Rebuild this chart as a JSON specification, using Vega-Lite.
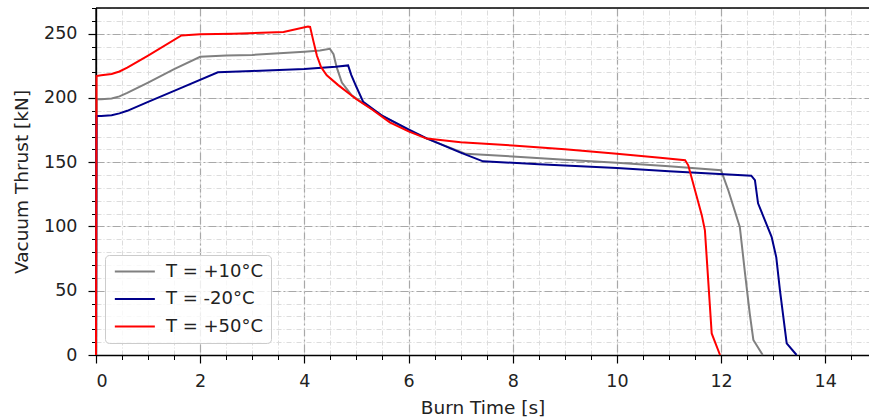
{
  "$schema": "https://vega.github.io/schema/vega-lite/v6.json",
  "width": 773,
  "height": 347,
  "autosize": {"type": "none"},
  "padding": {"left": 96, "top": 8, "right": 0, "bottom": 65},
  "background": "white",
  "config": {
    "view": {"stroke": null},
    "font": "DejaVu Sans",
    "axis": {"labelFont": "DejaVu Sans", "titleFont": "DejaVu Sans", "labelColor": "#222", "titleColor": "#222", "titleFontWeight": "normal"}
  },
  "datasets": {
    "thrust": [
      {"t": 0, "thrust": 0, "series": "T = +10°C"},
      {"t": 0.01, "thrust": 199, "series": "T = +10°C"},
      {"t": 0.1, "thrust": 199, "series": "T = +10°C"},
      {"t": 0.3, "thrust": 199.6, "series": "T = +10°C"},
      {"t": 0.45, "thrust": 201.2, "series": "T = +10°C"},
      {"t": 0.6, "thrust": 204, "series": "T = +10°C"},
      {"t": 1.0, "thrust": 212, "series": "T = +10°C"},
      {"t": 1.5, "thrust": 222.5, "series": "T = +10°C"},
      {"t": 2.0, "thrust": 232, "series": "T = +10°C"},
      {"t": 2.5, "thrust": 233, "series": "T = +10°C"},
      {"t": 3.0, "thrust": 233.5, "series": "T = +10°C"},
      {"t": 3.6, "thrust": 235, "series": "T = +10°C"},
      {"t": 4.0, "thrust": 236, "series": "T = +10°C"},
      {"t": 4.3, "thrust": 237, "series": "T = +10°C"},
      {"t": 4.49, "thrust": 238.3, "series": "T = +10°C"},
      {"t": 4.56, "thrust": 234, "series": "T = +10°C"},
      {"t": 4.62, "thrust": 224, "series": "T = +10°C"},
      {"t": 4.72, "thrust": 212, "series": "T = +10°C"},
      {"t": 4.91, "thrust": 202, "series": "T = +10°C"},
      {"t": 5.2, "thrust": 194, "series": "T = +10°C"},
      {"t": 5.5, "thrust": 186, "series": "T = +10°C"},
      {"t": 6.0, "thrust": 175, "series": "T = +10°C"},
      {"t": 6.35, "thrust": 168.3, "series": "T = +10°C"},
      {"t": 7.1, "thrust": 156.5, "series": "T = +10°C"},
      {"t": 8.0, "thrust": 154.5, "series": "T = +10°C"},
      {"t": 9.0, "thrust": 152, "series": "T = +10°C"},
      {"t": 10.0, "thrust": 149.5, "series": "T = +10°C"},
      {"t": 11.0, "thrust": 146.8, "series": "T = +10°C"},
      {"t": 12.0, "thrust": 143.7, "series": "T = +10°C"},
      {"t": 12.14, "thrust": 128, "series": "T = +10°C"},
      {"t": 12.36, "thrust": 99.7, "series": "T = +10°C"},
      {"t": 12.46, "thrust": 63.5, "series": "T = +10°C"},
      {"t": 12.55, "thrust": 32.4, "series": "T = +10°C"},
      {"t": 12.62, "thrust": 11.7, "series": "T = +10°C"},
      {"t": 12.8, "thrust": 0, "series": "T = +10°C"},
      {"t": 0, "thrust": 0, "series": "T = -20°C"},
      {"t": 0.01, "thrust": 186, "series": "T = -20°C"},
      {"t": 0.1, "thrust": 186, "series": "T = -20°C"},
      {"t": 0.3, "thrust": 186.6, "series": "T = -20°C"},
      {"t": 0.45, "thrust": 188, "series": "T = -20°C"},
      {"t": 0.6, "thrust": 190, "series": "T = -20°C"},
      {"t": 1.0, "thrust": 197, "series": "T = -20°C"},
      {"t": 1.5, "thrust": 205.5, "series": "T = -20°C"},
      {"t": 2.34, "thrust": 220, "series": "T = -20°C"},
      {"t": 3.0, "thrust": 221, "series": "T = -20°C"},
      {"t": 4.0, "thrust": 222.5, "series": "T = -20°C"},
      {"t": 4.6, "thrust": 224.3, "series": "T = -20°C"},
      {"t": 4.84, "thrust": 225.3, "series": "T = -20°C"},
      {"t": 4.9, "thrust": 218, "series": "T = -20°C"},
      {"t": 5.0, "thrust": 208.5, "series": "T = -20°C"},
      {"t": 5.13, "thrust": 197, "series": "T = -20°C"},
      {"t": 5.5, "thrust": 186, "series": "T = -20°C"},
      {"t": 6.0, "thrust": 175.5, "series": "T = -20°C"},
      {"t": 6.35, "thrust": 168.6, "series": "T = -20°C"},
      {"t": 7.0, "thrust": 157.5, "series": "T = -20°C"},
      {"t": 7.43, "thrust": 150.7, "series": "T = -20°C"},
      {"t": 8.5, "thrust": 148.5, "series": "T = -20°C"},
      {"t": 10.0, "thrust": 145.5, "series": "T = -20°C"},
      {"t": 11.0, "thrust": 143, "series": "T = -20°C"},
      {"t": 12.58, "thrust": 139.5, "series": "T = -20°C"},
      {"t": 12.65, "thrust": 136, "series": "T = -20°C"},
      {"t": 12.71, "thrust": 118, "series": "T = -20°C"},
      {"t": 12.97, "thrust": 92, "series": "T = -20°C"},
      {"t": 13.06, "thrust": 76, "series": "T = -20°C"},
      {"t": 13.13, "thrust": 50.5, "series": "T = -20°C"},
      {"t": 13.26, "thrust": 9, "series": "T = -20°C"},
      {"t": 13.45, "thrust": 0, "series": "T = -20°C"},
      {"t": 0, "thrust": 0, "series": "T = +50°C"},
      {"t": 0.01, "thrust": 217, "series": "T = +50°C"},
      {"t": 0.1, "thrust": 217.6, "series": "T = +50°C"},
      {"t": 0.3, "thrust": 218.6, "series": "T = +50°C"},
      {"t": 0.45, "thrust": 220.6, "series": "T = +50°C"},
      {"t": 0.6, "thrust": 223.6, "series": "T = +50°C"},
      {"t": 1.0, "thrust": 233, "series": "T = +50°C"},
      {"t": 1.64, "thrust": 248.6, "series": "T = +50°C"},
      {"t": 2.0, "thrust": 249.5, "series": "T = +50°C"},
      {"t": 2.64, "thrust": 250, "series": "T = +50°C"},
      {"t": 3.6, "thrust": 251.3, "series": "T = +50°C"},
      {"t": 4.07, "thrust": 255.5, "series": "T = +50°C"},
      {"t": 4.11, "thrust": 255.3, "series": "T = +50°C"},
      {"t": 4.17, "thrust": 244.8, "series": "T = +50°C"},
      {"t": 4.24, "thrust": 233, "series": "T = +50°C"},
      {"t": 4.32, "thrust": 224, "series": "T = +50°C"},
      {"t": 4.43, "thrust": 217.6, "series": "T = +50°C"},
      {"t": 4.65, "thrust": 210, "series": "T = +50°C"},
      {"t": 5.0, "thrust": 199, "series": "T = +50°C"},
      {"t": 5.3, "thrust": 191, "series": "T = +50°C"},
      {"t": 5.64, "thrust": 181, "series": "T = +50°C"},
      {"t": 6.0, "thrust": 174, "series": "T = +50°C"},
      {"t": 6.35, "thrust": 168.4, "series": "T = +50°C"},
      {"t": 7.0, "thrust": 165.5, "series": "T = +50°C"},
      {"t": 8.0, "thrust": 163, "series": "T = +50°C"},
      {"t": 9.0, "thrust": 160, "series": "T = +50°C"},
      {"t": 10.0, "thrust": 156.6, "series": "T = +50°C"},
      {"t": 10.83, "thrust": 153.5, "series": "T = +50°C"},
      {"t": 11.31, "thrust": 151.5, "series": "T = +50°C"},
      {"t": 11.37, "thrust": 147.6, "series": "T = +50°C"},
      {"t": 11.63, "thrust": 108.8, "series": "T = +50°C"},
      {"t": 11.69, "thrust": 97, "series": "T = +50°C"},
      {"t": 11.82, "thrust": 16.8, "series": "T = +50°C"},
      {"t": 11.98, "thrust": 0, "series": "T = +50°C"}
    ]
  },
  "resolve": {"scale": {"x": "shared", "y": "shared"}, "axis": {"x": "independent", "y": "independent"}},
  "layer": [
    {
      "data": {"values": [{}]},
      "mark": {"type": "rule", "color": "black", "strokeWidth": 1.3},
      "encoding": {
        "y": {
          "datum": 270, "type": "quantitative",
          "scale": {"domain": [0, 270], "nice": false, "zero": false},
          "axis": {
            "orient": "left", "title": null, "labels": false, "domain": false,
            "values": [0,10,20,30,40,50,60,70,80,90,100,110,120,130,140,150,160,170,180,190,200,210,220,230,240,250,260,270],
            "tickSize": 4.5, "tickColor": "black", "tickWidth": 1,
            "grid": true, "gridColor": "#dcdcdc", "gridDash": [5, 2, 1, 2], "gridWidth": 1
          }
        }
      }
    },
    {
      "data": {"values": [{}]},
      "mark": {"type": "rule", "color": "black", "strokeWidth": 1.3},
      "encoding": {
        "x": {
          "datum": 0, "type": "quantitative",
          "scale": {"domain": [0, 14.84], "nice": false, "zero": false},
          "axis": {
            "orient": "bottom", "title": null, "labels": false, "domain": false,
            "values": [0,0.5,1,1.5,2,2.5,3,3.5,4,4.5,5,5.5,6,6.5,7,7.5,8,8.5,9,9.5,10,10.5,11,11.5,12,12.5,13,13.5,14,14.5],
            "tickSize": 4.5, "tickColor": "black", "tickWidth": 1,
            "grid": true, "gridColor": "#dcdcdc", "gridDash": [5, 2, 1, 2], "gridWidth": 1
          }
        }
      }
    },
    {
      "data": {"name": "thrust"},
      "mark": {"type": "line", "strokeWidth": 2, "interpolate": "linear"},
      "encoding": {
        "x": {
          "field": "t", "type": "quantitative",
          "scale": {"domain": [0, 14.84], "nice": false, "zero": false},
          "axis": {
            "orient": "bottom", "title": "Burn Time [s]", "values": [0,2,4,6,8,10,12,14],
            "labelFontSize": 17.5, "titleFontSize": 18.5, "labelPadding": 9, "titlePadding": 9,
            "tickSize": 8, "tickColor": "black", "tickWidth": 1.2,
            "domain": true, "domainColor": "black", "domainWidth": 1.3,
            "grid": true, "gridColor": "#a8a8a8", "gridDash": [8, 3, 2, 3], "gridWidth": 1.2
          }
        },
        "y": {
          "field": "thrust", "type": "quantitative",
          "scale": {"domain": [0, 270], "nice": false, "zero": false},
          "axis": {
            "orient": "left", "title": "Vacuum Thrust [kN]", "values": [0,50,100,150,200,250],
            "labelFontSize": 17.5, "titleFontSize": 18.5, "labelPadding": 11, "titlePadding": 12,
            "tickSize": 8, "tickColor": "black", "tickWidth": 1.2,
            "domain": true, "domainColor": "black", "domainWidth": 1.3,
            "grid": true, "gridColor": "#a8a8a8", "gridDash": [8, 3, 2, 3], "gridWidth": 1.2
          }
        },
        "color": {
          "field": "series", "type": "nominal",
          "scale": {"domain": ["T = +10°C", "T = -20°C", "T = +50°C"], "range": ["#808080", "#00008b", "#ff0000"]},
          "legend": {
            "title": null, "orient": "none", "legendX": 9, "legendY": 247,
            "symbolType": "M-1,0L5,0", "symbolSize": 178, "symbolStrokeWidth": 2,
            "labelFontSize": 18, "labelFont": "DejaVu Sans", "labelColor": "#222", "labelOffset": 35.5,
            "rowPadding": 9.5, "padding": 7.5,
            "fillColor": "rgba(255,255,255,0.8)", "strokeColor": "#cccccc", "cornerRadius": 4
          }
        }
      }
    }
  ]
}
